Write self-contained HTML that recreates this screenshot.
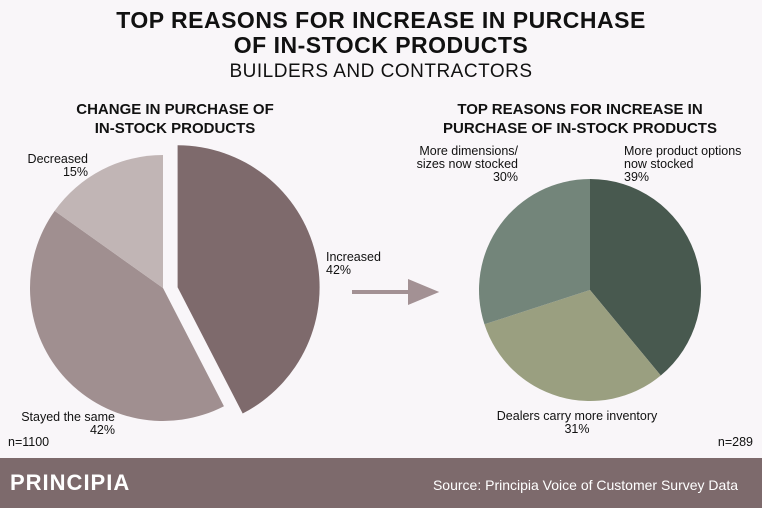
<!DOCTYPE html>
<html><head><meta charset="utf-8"><style>
body{margin:0;width:762px;height:508px;background:#f9f6f9;font-family:"Liberation Sans",sans-serif;overflow:hidden;position:relative}
.t{position:absolute;text-align:center;color:#111}
</style></head><body>
<div class="t" style="left:0;width:762px;top:8px;font-size:23px;font-weight:bold;line-height:25px;letter-spacing:0.5px">TOP REASONS FOR INCREASE IN PURCHASE<br>OF IN-STOCK PRODUCTS</div>
<div class="t" style="left:0;width:762px;top:61px;font-size:19px;letter-spacing:0.5px">BUILDERS AND CONTRACTORS</div>
<div class="t" style="left:40px;width:270px;top:100px;font-size:15px;font-weight:bold;line-height:19px">CHANGE IN PURCHASE OF<br>IN-STOCK PRODUCTS</div>
<div class="t" style="left:410px;width:340px;top:100px;font-size:15px;font-weight:bold;line-height:19px">TOP REASONS FOR INCREASE IN<br>PURCHASE OF IN-STOCK PRODUCTS</div>
<svg id="c" width="762" height="508" style="position:absolute;left:0;top:0"></svg>
<div style="position:absolute;left:0;top:458px;width:762px;height:50px;background:#7d6a6c"></div>
<div style="position:absolute;left:10px;top:470px;color:#fff;font-size:22px;font-weight:bold;letter-spacing:1px">PRINCIPIA</div>
<div style="position:absolute;right:24px;top:477px;color:#fff;font-size:14px">Source: Principia Voice of Customer Survey Data</div>
<script>
const leftLabels=["Increased","Stayed the same","Decreased"];
const leftValues=[42,42,15];
const rightLabels=["More product options now stocked","Dealers carry more inventory","More dimensions/ sizes now stocked"];
const rightValues=[39,31,30];
const svg=document.getElementById('c');const NS='http://www.w3.org/2000/svg';
function mk(t,a){const e=document.createElementNS(NS,t);for(const k in a)e.setAttribute(k,a[k]);svg.appendChild(e);return e;}
function slice(cx,cy,r,a0,a1,fill,name){
 const p=a=>[cx+r*Math.sin(a),cy-r*Math.cos(a)];const s=p(a0),e=p(a1);
 const el=mk('path',{d:`M${cx},${cy}L${s[0]},${s[1]}A${r},${r} 0 ${a1-a0>Math.PI?1:0} 1 ${e[0]},${e[1]}Z`,fill:fill});
 
 
}
function txt(x,y,lines,anchor,name){
 const t=mk('text',{x:x,y:y,'font-size':12.5,fill:'#111','text-anchor':anchor,'font-family':'Liberation Sans, sans-serif'});
 
 
 lines.forEach((l,i)=>{const s=document.createElementNS(NS,'tspan');s.setAttribute('x',x);s.setAttribute('dy',i?13:0);s.textContent=l;t.appendChild(s);});
}
// left pie
const lc=['#7e6a6c','#a08f90','#c1b5b5'];
let tot=leftValues.reduce((a,b)=>a+b,0),a=0;
leftValues.forEach((v,i)=>{const a1=a+v/tot*2*Math.PI;
 if(i===0){const m=(a+a1)/2;slice(163+14*Math.sin(m)*1.0+1,288-3*Math.cos(m),142,a,a1,lc[i],'slice-increased');}
 else slice(163,288,133,a,a1,lc[i],'slice-'+leftLabels[i].toLowerCase().replace(/ /g,'-'));
 a=a1;});
txt(326,261,[leftLabels[0],leftValues[0]+'%'],'start','label-increased');
txt(115,421,[leftLabels[1],leftValues[1]+'%'],'end','label-stayed-same');
txt(88,163,[leftLabels[2],leftValues[2]+'%'],'end','label-decreased');
txt(8,446,['n=1100'],'start','left-sample-size');
// arrow
const ar=mk('path',{d:'M352,292H420M410,282L434,292L410,302Z',stroke:'#a39194','stroke-width':4,fill:'#a39194'});


// right pie
const rc=['#48594f','#9a9f80','#73857a'];
tot=rightValues.reduce((a,b)=>a+b,0);a=0;
rightValues.forEach((v,i)=>{const a1=a+v/tot*2*Math.PI;slice(590,290,111,a,a1,rc[i],'slice-reason-'+(i+1));a=a1;});
txt(624,155,['More product options','now stocked',rightValues[0]+'%'],'start','label-product-options');
txt(577,420,[rightLabels[1],rightValues[1]+'%'],'middle','label-dealer-inventory');
txt(518,155,['More dimensions/','sizes now stocked',rightValues[2]+'%'],'end','label-dimensions');
txt(753,446,['n=289'],'end','right-sample-size');
</script>
</body></html>
